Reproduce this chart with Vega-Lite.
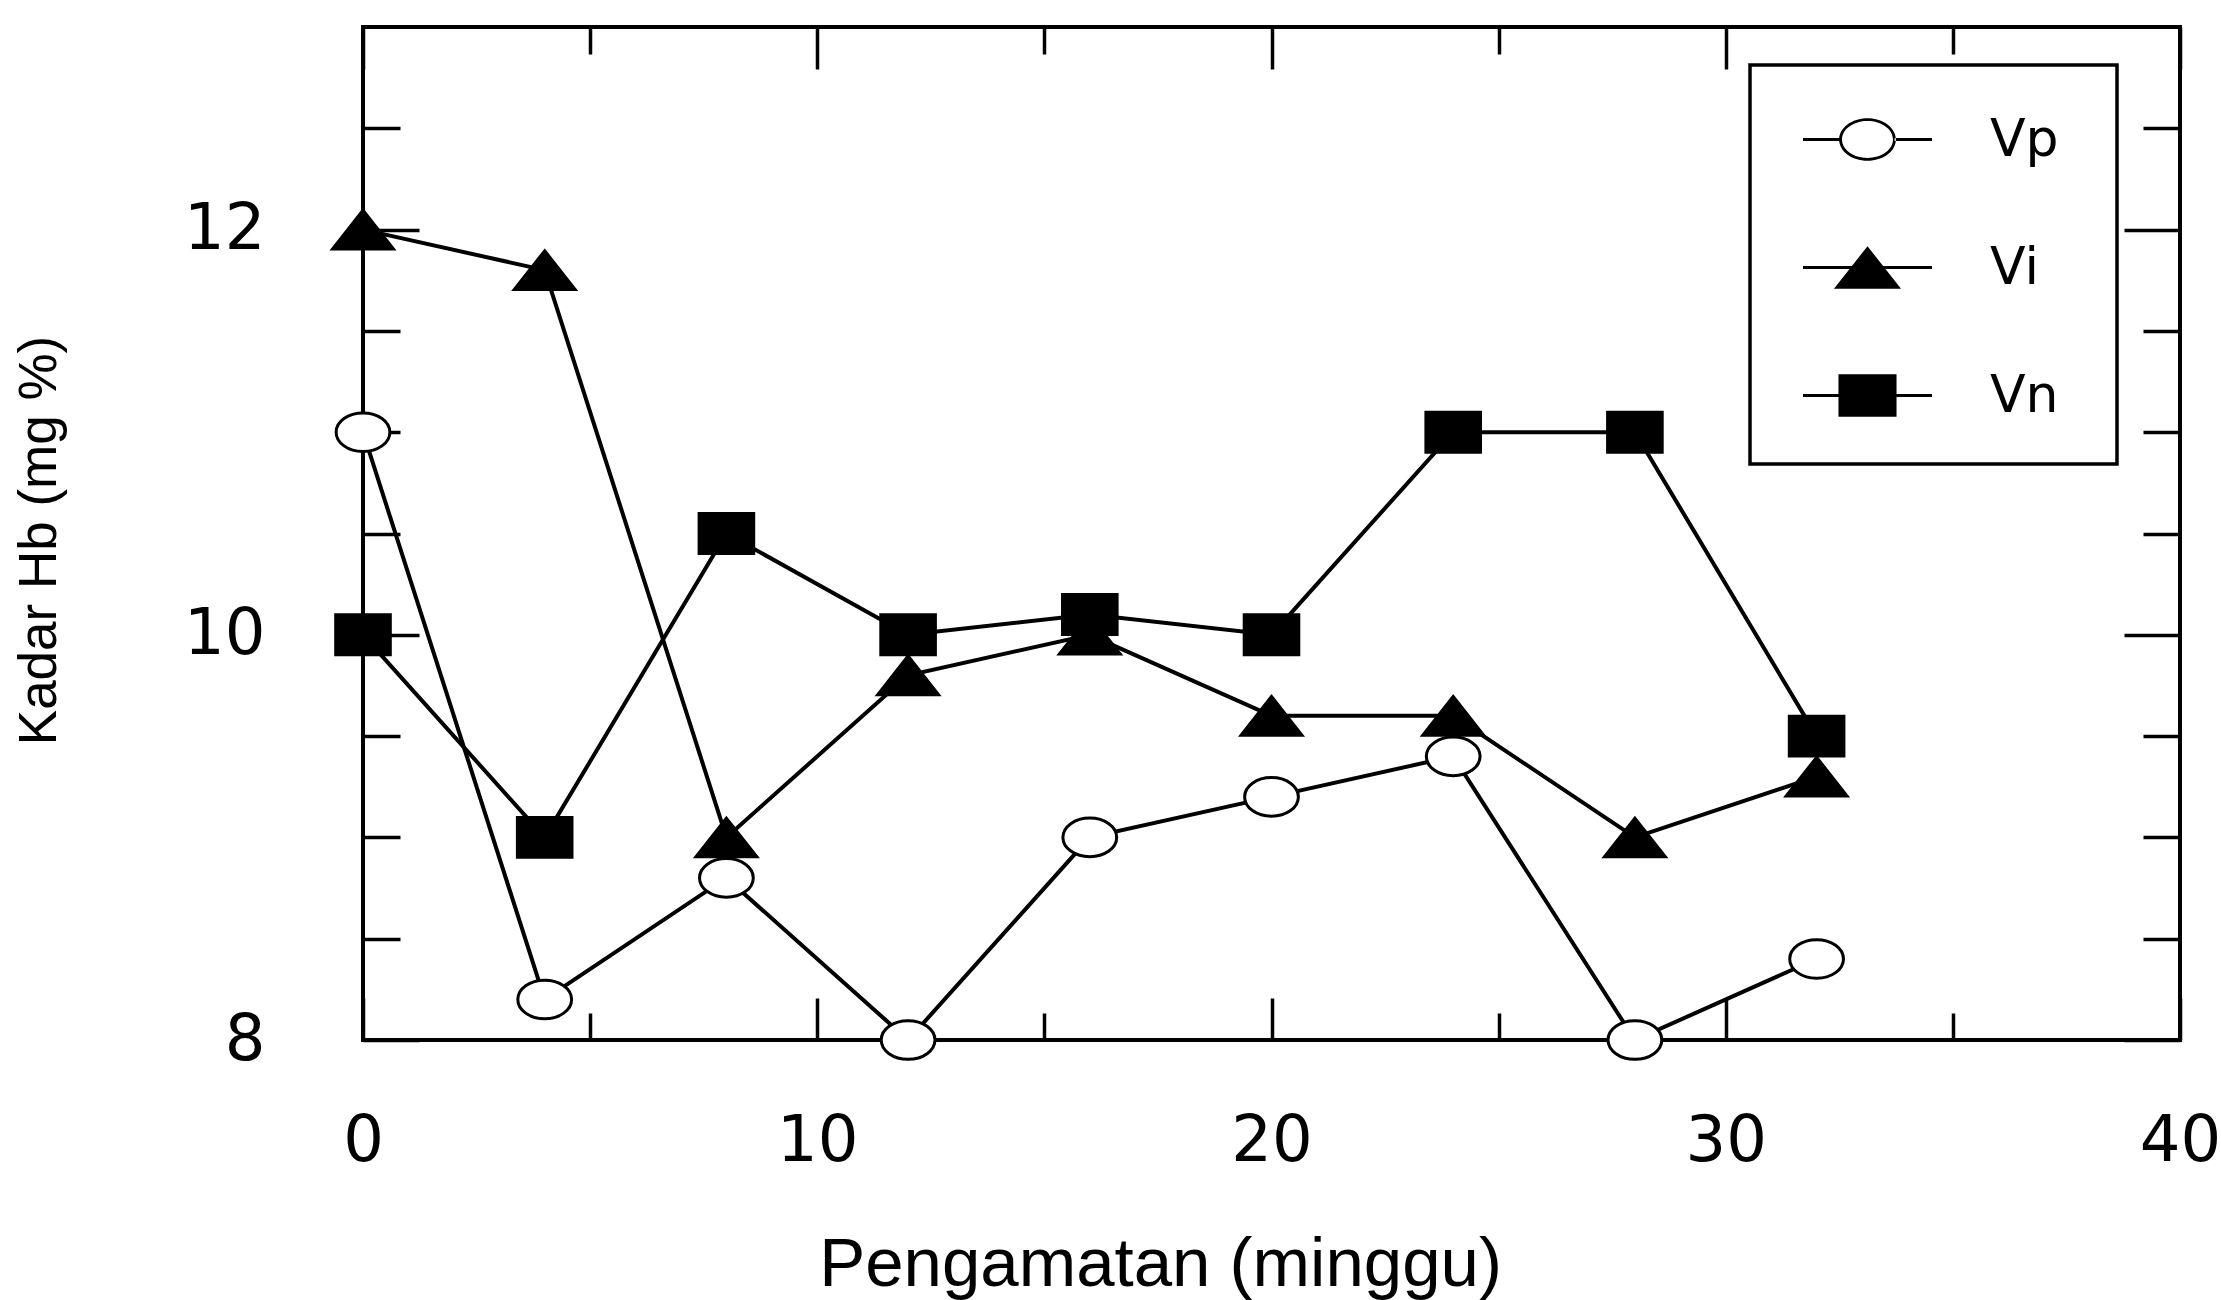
{
  "$schema": "https://vega.github.io/schema/vega-lite/v6.json",
  "autosize": "none",
  "padding": {"left": 363, "top": 27, "right": 41, "bottom": 260},
  "width": 1817,
  "height": 1013,
  "background": "white",
  "config": {
    "view": {"stroke": "black", "strokeWidth": 4},
    "axis": {"domain": false, "grid": false, "tickColor": "black", "tickWidth": 3.5, "labelColor": "black", "titleColor": "black", "labelFlush": false, "labelOverlap": false},
    "legend": {"strokeColor": "black", "strokeWidth": 3.5, "fillColor": "white"}
  },
  "data": {
    "values": [
      {"week": 0, "series": "Vp", "hb": 11.0},
      {"week": 4, "series": "Vp", "hb": 8.2},
      {"week": 8, "series": "Vp", "hb": 8.8},
      {"week": 12, "series": "Vp", "hb": 8.0},
      {"week": 16, "series": "Vp", "hb": 9.0},
      {"week": 20, "series": "Vp", "hb": 9.2},
      {"week": 24, "series": "Vp", "hb": 9.4},
      {"week": 28, "series": "Vp", "hb": 8.0},
      {"week": 32, "series": "Vp", "hb": 8.4},
      {"week": 0, "series": "Vi", "hb": 12.0},
      {"week": 4, "series": "Vi", "hb": 11.8},
      {"week": 8, "series": "Vi", "hb": 9.0},
      {"week": 12, "series": "Vi", "hb": 9.8},
      {"week": 16, "series": "Vi", "hb": 10.0},
      {"week": 20, "series": "Vi", "hb": 9.6},
      {"week": 24, "series": "Vi", "hb": 9.6},
      {"week": 28, "series": "Vi", "hb": 9.0},
      {"week": 32, "series": "Vi", "hb": 9.3},
      {"week": 0, "series": "Vn", "hb": 10.0},
      {"week": 4, "series": "Vn", "hb": 9.0},
      {"week": 8, "series": "Vn", "hb": 10.5},
      {"week": 12, "series": "Vn", "hb": 10.0},
      {"week": 16, "series": "Vn", "hb": 10.1},
      {"week": 20, "series": "Vn", "hb": 10.0},
      {"week": 24, "series": "Vn", "hb": 11.0},
      {"week": 28, "series": "Vn", "hb": 11.0},
      {"week": 32, "series": "Vn", "hb": 9.5}
    ]
  },
  "resolve": {
    "scale": {"shape": "independent", "fill": "independent"},
    "axis": {"x": "independent", "y": "independent"}
  },
  "layer": [
    {
      "mark": {"type": "line", "color": "black", "strokeWidth": 4},
      "encoding": {
        "x": {"field": "week", "type": "quantitative", "scale": {"domain": [0, 40], "nice": false, "zero": false},
          "axis": {"orient": "bottom", "values": [0, 10, 20, 30, 40], "tickSize": -42, "labelPadding": 111, "labelFont": "DejaVu Sans", "labelFontSize": 64, "labelFontWeight": "normal",
            "title": "Pengamatan (minggu)", "titleFont": "Liberation Sans", "titleFontSize": 69, "titleFontWeight": "normal", "titleX": 797, "titleY": 245, "titleAlign": "center", "titleBaseline": "alphabetic", "titleAngle": 0}},
        "y": {"field": "hb", "type": "quantitative", "scale": {"domain": [8, 13], "nice": false, "zero": false},
          "axis": {"orient": "left", "values": [8, 10, 12], "tickSize": -56, "labelPadding": 154, "labelFont": "DejaVu Sans", "labelFontSize": 64, "labelFontWeight": "normal", "labelAlign": "right", "labelBaseline": "middle",
            "title": "Kadar Hb (mg %)", "titleFont": "Liberation Sans", "titleFontSize": 53, "titleFontWeight": "normal", "titleX": -308, "titleY": 513, "titleAngle": -90, "titleAlign": "center", "titleBaseline": "alphabetic"}},
        "detail": {"field": "series", "type": "nominal"}
      }
    },
    {
      "mark": {"type": "point", "filled": true, "size": 1764, "stroke": "black", "strokeWidth": 3, "opacity": 1},
      "encoding": {
        "x": {"field": "week", "type": "quantitative",
          "axis": {"orient": "bottom", "values": [5, 15, 25, 35], "tickSize": -27, "labels": false, "title": null}},
        "y": {"field": "hb", "type": "quantitative",
          "axis": {"orient": "left", "values": [8.5, 9, 9.5, 10.5, 11, 11.5, 12.5], "tickSize": -37, "labels": false, "title": null}},
        "shape": {"field": "series", "type": "nominal", "legend": null,
          "scale": {"domain": ["Vp", "Vi", "Vn"], "range": [
            "M-1.28,0A1.28,0.92 0 1,1 1.28,0A1.28,0.92 0 1,1 -1.28,0Z",
            "M0,-0.92L1.45,0.92L-1.45,0.92Z",
            "M-1.3,-0.95H1.3V0.95H-1.3Z"]}},
        "fill": {"field": "series", "type": "nominal", "legend": null,
          "scale": {"domain": ["Vp", "Vi", "Vn"], "range": ["white", "black", "black"]}}
      }
    },
    {
      "transform": [{"filter": "false"}],
      "mark": {"type": "point", "filled": true, "color": "black", "opacity": 1},
      "encoding": {
        "x": {"field": "week", "type": "quantitative",
          "axis": {"orient": "top", "values": [0, 10, 20, 30, 40], "tickSize": -42, "labels": false, "title": null}},
        "y": {"field": "hb", "type": "quantitative",
          "axis": {"orient": "right", "values": [8, 10, 12], "tickSize": -56, "labels": false, "title": null}},
        "shape": {"field": "series", "type": "nominal",
          "scale": {"domain": ["Vp", "Vi", "Vn"], "range": [
            "M0,-0.9M3.71,0.9M-1,-0.024V0.024H-0.42V-0.024ZM1,-0.024V0.024H0.42V-0.024ZM-0.44,0A0.44,0.33 0 1,0 0.44,0A0.44,0.33 0 1,0 -0.44,0ZM-0.395,0A0.395,0.285 0 1,1 0.395,0A0.395,0.285 0 1,1 -0.395,0Z",
            "M0,-0.9M3.71,0.9M-1,-0.024H1V0.024H-1ZM0,-0.33L0.52,0.33L-0.52,0.33Z",
            "M0,-0.9M3.71,0.9M-1,-0.024H1V0.024H-1ZM-0.45,-0.33H0.45V0.33H-0.45Z"]},
          "legend": {"title": null, "orient": "none", "legendX": 1387, "legendY": 38, "symbolSize": 16641, "symbolStrokeWidth": 0, "symbolFillColor": "black", "symbolOffset": 43,
            "labelFont": "DejaVu Sans", "labelFontSize": 52, "labelColor": "black", "labelOffset": 58, "padding": 10, "rowPadding": 5}}
      }
    },
    {
      "transform": [{"filter": "false"}],
      "mark": {"type": "point", "opacity": 0},
      "encoding": {
        "x": {"field": "week", "type": "quantitative",
          "axis": {"orient": "top", "values": [5, 15, 25, 35], "tickSize": -27, "labels": false, "title": null}},
        "y": {"field": "hb", "type": "quantitative",
          "axis": {"orient": "right", "values": [8.5, 9, 9.5, 10.5, 11, 11.5, 12.5], "tickSize": -37, "labels": false, "title": null}}
      }
    }
  ]
}
